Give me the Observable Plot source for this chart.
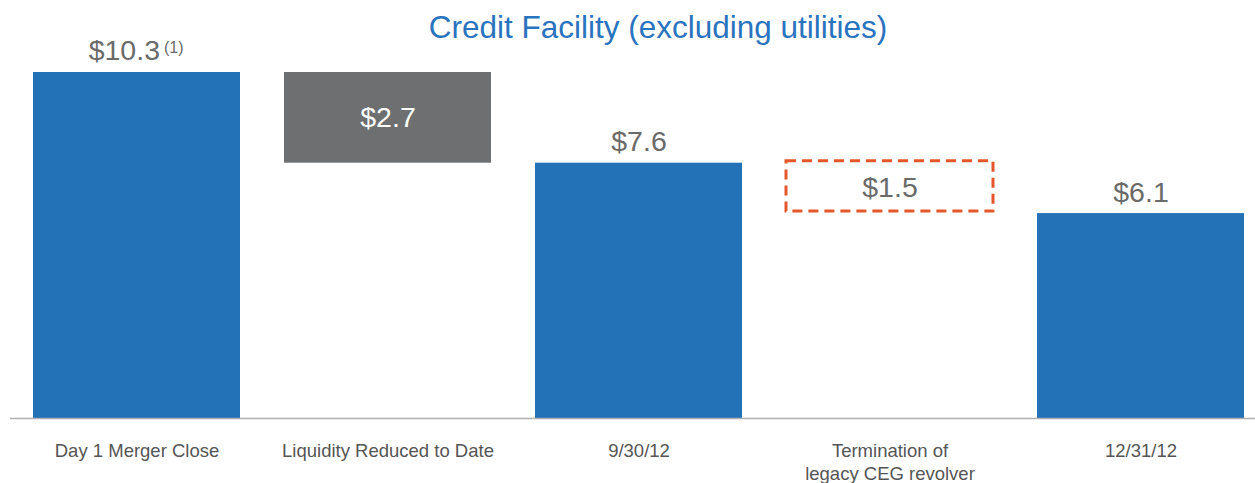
<!DOCTYPE html>
<html>
<head>
<meta charset="utf-8">
<script src="https://cdn.jsdelivr.net/npm/d3@7"></script>
<script src="https://cdn.jsdelivr.net/npm/@observablehq/plot@0.6"></script>
<style>
  html, body { margin: 0; padding: 0; background: #fff; }
  #chart svg { display: block; }
</style>
</head>
<body>
<div id="chart"></div>
<script>
const categories = ["Day 1 Merger Close", "Liquidity Reduced to Date", "9/30/12", "Termination of\nlegacy CEG revolver", "12/31/12"];
const startValues = [0, 7.6, 0, 6.1, 0];
const endValues = [10.3, 10.3, 7.6, 7.6, 6.1];
const kinds = ["total", "decrease", "total", "termination", "total"];
const valueLabels = ["$10.3", "$2.7", "$7.6", "$1.5", "$6.1"];
const footnotes = ["(1)", "", "", "", ""];
const title = "Credit Facility (excluding utilities)";

const rows = categories.map((c, i) => ({
  cat: c, y1: startValues[i], y2: endValues[i], kind: kinds[i],
  label: valueLabels[i], note: footnotes[i], mid: (startValues[i] + endValues[i]) / 2
}));

const font = "'Liberation Sans', Arial, sans-serif";
const blue = "#2371b7";
const gray = "#6e6f71";
const orange = "#e4572b";
const labelGray = "#6a6a6a";

const chart = Plot.plot({
  width: 1255,
  height: 483,
  marginTop: 0,
  marginLeft: 10,
  marginRight: 0,
  marginBottom: 65,
  style: { fontFamily: font, background: "#fff" },
  x: { domain: categories, range: [31, 1246], paddingInner: 0.175, paddingOuter: 0, label: null },
  y: { domain: [0, 10.3], range: [418, 72], axis: null },
  marks: [
    Plot.barY(rows.filter(d => d.kind === "total"), { x: "cat", y1: "y1", y2: "y2", fill: blue }),
    Plot.barY(rows.filter(d => d.kind === "decrease"), { x: "cat", y1: "y1", y2: "y2", fill: gray }),
    Plot.barY(rows.filter(d => d.kind === "termination"), {
      x: "cat", y1: "y1", y2: "y2", fill: "none", stroke: orange,
      strokeWidth: 3, strokeDasharray: "10,6", inset: 0, dy: -2
    }),
    Plot.ruleY([0], { stroke: "#b0b0b0", strokeWidth: 1.5 }),
    Plot.axisX({ tickSize: 0, tickPadding: 22, fontSize: 18.5, lineHeight: 1.24, color: "#555", fill: "#555" }),
    // labels above totals (no footnote)
    Plot.text(rows.filter(d => d.kind === "total" && !d.note), {
      x: "cat", y: "y2", text: "label", dy: -21, fontSize: 28.5, fill: labelGray
    }),
    // label with footnote marker
    Plot.text(rows.filter(d => d.kind === "total" && d.note), {
      x: "cat", y: "y2", text: "label", dy: -22, dx: 23, textAnchor: "end", fontSize: 28.5, fill: labelGray
    }),
    Plot.text(rows.filter(d => d.kind === "total" && d.note), {
      x: "cat", y: "y2", text: "note", dy: -25, dx: 27, textAnchor: "start", fontSize: 16, fill: labelGray
    }),
    // labels inside floating bars
    Plot.text(rows.filter(d => d.kind === "decrease"), {
      x: "cat", y: "mid", text: "label", fontSize: 28.5, fill: "#fff"
    }),
    Plot.text(rows.filter(d => d.kind === "termination"), {
      x: "cat", y: "mid", text: "label", fontSize: 28.5, fill: labelGray, dy: -1
    }),
    Plot.text([title], { frameAnchor: "top", lineAnchor: "middle", dy: 27, dx: 25, fontSize: 31.5, fill: "#2a73be" })
  ]
});
document.getElementById("chart").append(chart);
</script>
</body>
</html>
